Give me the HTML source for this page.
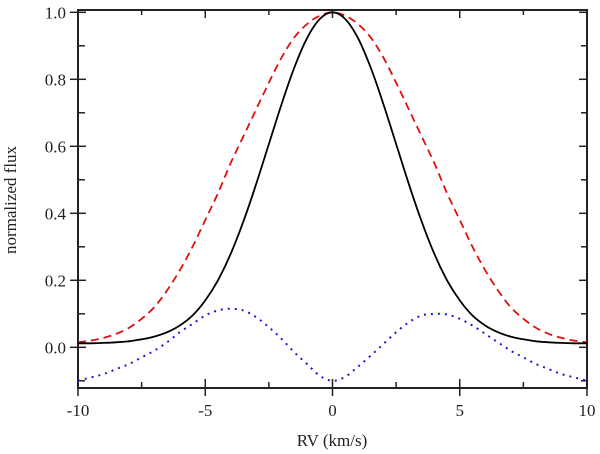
<!DOCTYPE html>
<html><head><meta charset="utf-8"><style>
html,body{margin:0;padding:0;background:#fff;}
svg{display:block;font-family:"Liberation Serif",serif;}
</style></head><body>
<svg id="chart" width="600" height="454"></svg>
<script>
const xs=[-10,-9.5,-9,-8.5,-8,-7.5,-7,-6.5,-6,-5.5,-5,-4.5,-4,-3.5,-3,-2.5,-2,-1.5,-1,-0.5,0,0.5,1,1.5,2,2.5,3,3.5,4,4.5,5,5.5,6,6.5,7,7.5,8,8.5,9,9.5,10];
const blackHalf=[1.0,0.98,0.923,0.835,0.726,0.607,0.487,0.376,0.279,0.20,0.14,0.095,0.065,0.045,0.032,0.024,0.018,0.015,0.013,0.012,0.012];
const redHalf=[1.0,0.99,0.965,0.925,0.865,0.79,0.71,0.63,0.55,0.46,0.38,0.30,0.23,0.17,0.12,0.085,0.058,0.04,0.028,0.02,0.015];
const blueVals=[-0.10,-0.09,-0.08,-0.065,-0.05,-0.03,-0.01,0.015,0.045,0.07,0.095,0.11,0.115,0.11,0.09,0.06,0.025,-0.015,-0.05,-0.085,-0.1,-0.088,-0.058,-0.025,0.01,0.045,0.075,0.095,0.10,0.098,0.085,0.065,0.04,0.015,-0.01,-0.03,-0.05,-0.065,-0.08,-0.09,-0.10];
const xTicks=[-10,-5,0,5,10];
const xMinor=[-7.5,-2.5,2.5,7.5];
const yTicks=[0,0.2,0.4,0.6,0.8,1.0];
const yTickLabels=["0.0","0.2","0.4","0.6","0.8","1.0"];
const yMinor=[-0.1,0.1,0.3,0.5,0.7,0.9];

const L=78,R=587,T=10,B=388;
const X=v=>L+(v+10)/20*(R-L);
const Y=v=>347.3-v*335;
const svg=document.getElementById('chart');
const NS='http://www.w3.org/2000/svg';
function mk(tag,attrs,parent){const e=document.createElementNS(NS,tag);for(const k in attrs)e.setAttribute(k,attrs[k]);(parent||svg).appendChild(e);return e;}
function mirror(h){return xs.map(x=>h[Math.round(Math.abs(x)*2)]);}
function path(vals){
  const p=vals.map((v,i)=>[X(xs[i]),Y(v)]);
  let d='M'+p[0][0].toFixed(1)+','+p[0][1].toFixed(1);
  for(let i=0;i<p.length-1;i++){
    const p0=p[Math.max(0,i-1)],p1=p[i],p2=p[i+1],p3=p[Math.min(p.length-1,i+2)];
    const c1=[p1[0]+(p2[0]-p0[0])/6,p1[1]+(p2[1]-p0[1])/6];
    const c2=[p2[0]-(p3[0]-p1[0])/6,p2[1]-(p3[1]-p1[1])/6];
    d+='C'+c1[0].toFixed(1)+','+c1[1].toFixed(1)+' '+c2[0].toFixed(1)+','+c2[1].toFixed(1)+' '+p2[0].toFixed(1)+','+p2[1].toFixed(1);
  }
  return d;
}

const frame=mk('rect',{x:L,y:T,width:R-L,height:B-T,fill:'none',stroke:'#222','stroke-width':2});



xTicks.forEach(v=>{
  const t=mk('line',{x1:X(v),x2:X(v),y1:B-9,y2:B+8,stroke:'#222','stroke-width':1.5});
  
  
  const t2=mk('line',{x1:X(v),x2:X(v),y1:T,y2:T+8,stroke:'#222','stroke-width':1.5});
  
  
  const lb=mk('text',{x:X(v),y:416,'text-anchor':'middle','font-size':17,fill:'#222'});
  lb.textContent=v;
  
  
});
xMinor.forEach(v=>{
  const t=mk('line',{x1:X(v),x2:X(v),y1:B-6,y2:B+1,stroke:'#222','stroke-width':1.5});
  
  
  const t2=mk('line',{x1:X(v),x2:X(v),y1:T,y2:T+5,stroke:'#222','stroke-width':1.5});
  
  
});
yTicks.forEach((v,i)=>{
  const t=mk('line',{x1:L-8,x2:L+8,y1:Y(v),y2:Y(v),stroke:'#222','stroke-width':1.5});
  
  
  const t2=mk('line',{x1:R-8,x2:R,y1:Y(v),y2:Y(v),stroke:'#222','stroke-width':1.5});
  
  
  const lb=mk('text',{x:66,y:Y(v)+6,'text-anchor':'end','font-size':17,fill:'#222'});
  lb.textContent=yTickLabels[i];
  
  
});
yMinor.forEach(v=>{
  const t=mk('line',{x1:L-1,x2:L+7,y1:Y(v),y2:Y(v),stroke:'#222','stroke-width':1.5});
  
  
  const t2=mk('line',{x1:R-6,x2:R,y1:Y(v),y2:Y(v),stroke:'#222','stroke-width':1.5});
  
  
});

const red=mk('path',{d:path(mirror(redHalf)),fill:'none',stroke:'#e01010','stroke-width':1.8,'stroke-dasharray':'8,5'});


const black=mk('path',{d:path(mirror(blackHalf)),fill:'none',stroke:'#000','stroke-width':1.8});


const blue=mk('path',{d:path(blueVals),fill:'none',stroke:'#1a1ad0','stroke-width':2,'stroke-dasharray':'2,5'});



const xt=mk('text',{x:332,y:446,'text-anchor':'middle','font-size':17,fill:'#222'});
xt.textContent='RV (km/s)';


const yt=mk('text',{x:0,y:0,'text-anchor':'middle','font-size':17,fill:'#222',transform:'translate(16,200) rotate(-90)'});
yt.textContent='normalized flux';


</script>
</body></html>
